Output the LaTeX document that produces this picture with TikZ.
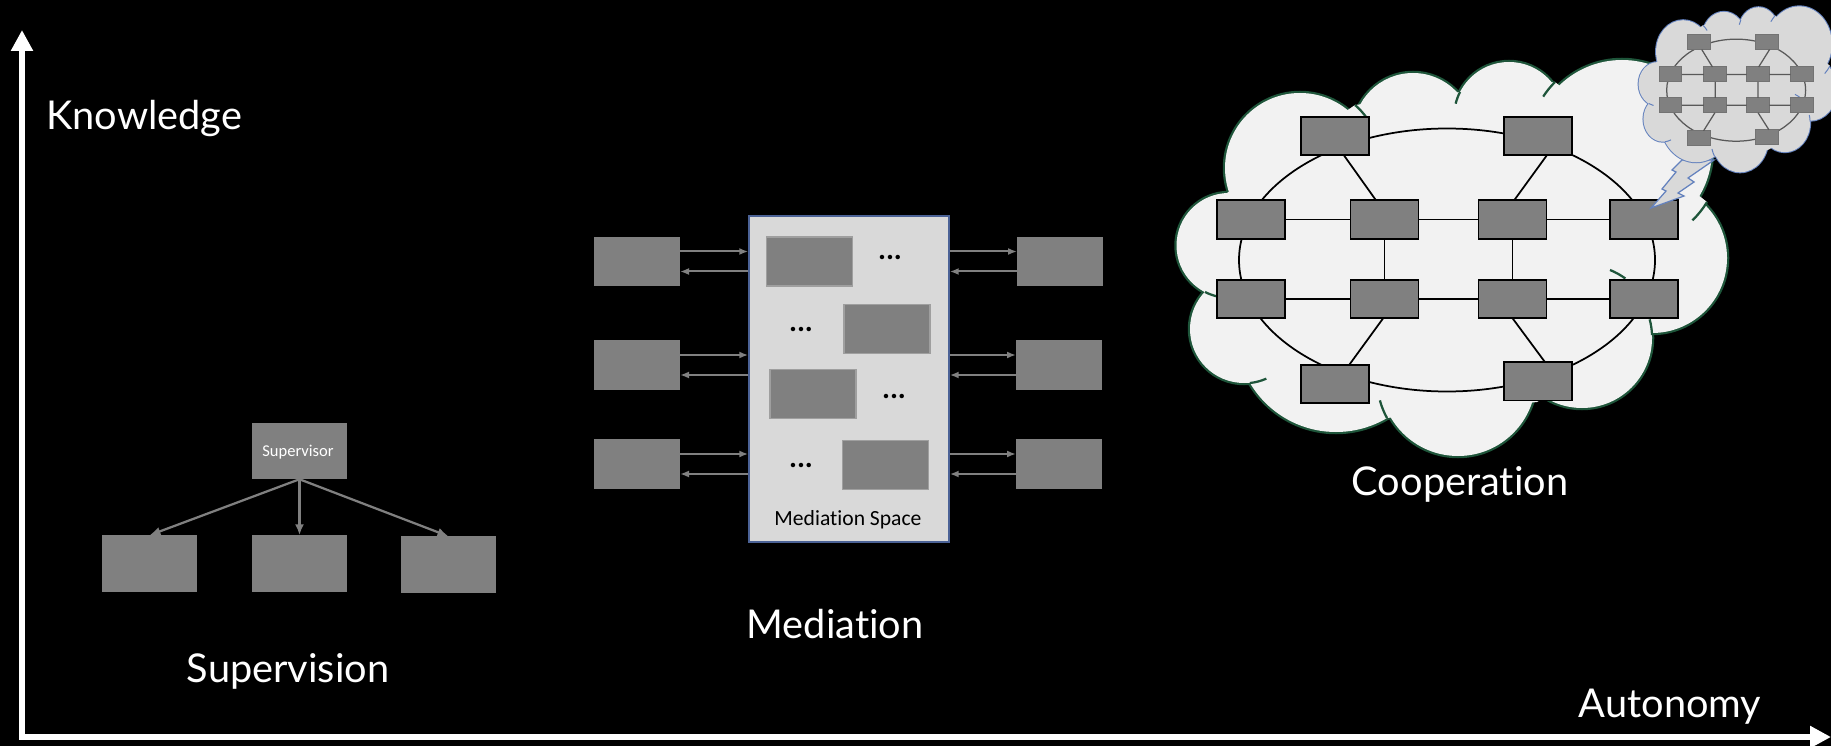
\documentclass[tikz,border=0pt]{standalone}
\usepackage{fontspec}
\setmainfont{Lato}[Ligatures={NoCommon,NoContextual}]
\newfontfamily\calibri{Carlito}[Ligatures={NoCommon,NoContextual}]
\usetikzlibrary{arrows.meta,calc}

\definecolor{boxgray}{RGB}{128,128,128}
\definecolor{spacegray}{RGB}{217,217,217}
\definecolor{spaceblue}{RGB}{75,98,150}
\definecolor{cloudwhite}{RGB}{242,242,242}
\definecolor{cloudgreen}{RGB}{30,85,58}
\definecolor{thinkblue}{RGB}{100,130,190}
\definecolor{thinkgray}{RGB}{217,217,217}

\tikzset{
  axis/.style={white, line width=0.12cm,
    {Triangle[length=0.42cm,width=0.42cm]}-{Triangle[length=0.42cm,width=0.42cm]}},
  axislabel/.style={white, font=\fontsize{22.6}{28}\selectfont, inner sep=0pt, anchor=base},
  agent/.style={fill=boxgray, inner sep=0pt, outer sep=0pt},
  supbox/.style={agent, minimum width=1.9cm, minimum height=1.13cm},
  medbox/.style={agent, minimum width=1.72cm, minimum height=0.99cm},
  innerbox/.style={medbox, draw=gray!75, line width=0.03cm},
  suparrow/.style={boxgray, line width=0.045cm, -{Latex[length=0.22cm,width=0.18cm]}},
  medarrow/.style={boxgray, line width=0.04cm, -{Latex[length=0.18cm,width=0.14cm]}},
  dotlabel/.style={font=\calibri\bfseries\fontsize{17}{17}\selectfont, inner sep=0pt},
  netnode/.style={agent, minimum width=1.36cm, minimum height=0.77cm},
}

% puffs of the cloud: centre x / centre y / radius
\def\puffs{1300/168/75, 1413/133/60, 1509/117/55, 1622/150/90, 1652/258/75,
  1582/338/70, 1458/378/78, 1336/332/100, 1244/329/54, 1229/245.5/52.5}

% #1 = prefix of the node names, #2 = size of the cloud round the ring
\newcommand{\netcloud}[2]{%
  \begin{scope}[shift={(1447,260)}, scale=#2, shift={(-1447,-260)}]
  \foreach \cx/\cy/\pr in \puffs \draw[puff line] (\cx,\cy) circle[radius=\pr];
  \fill[puff fill] (1227,193) -- (1355,105) -- (1460,92) -- (1555,82) -- (1707,202)
    -- (1652,335) -- (1537,402) -- (1387,418) -- (1250,383) -- (1205,292) -- cycle;
  \foreach \cx/\cy/\pr in \puffs \fill[puff fill] (\cx,\cy) circle[radius=\pr];
  \draw[puff tail] (1355,105) arc[start angle=-49, end angle=-36, radius=75];
  \draw[puff tail] (1460,92) arc[start angle=207, end angle=194, radius=55];
  \draw[puff tail] (1555,82) arc[start angle=225, end angle=213, radius=90];
  \draw[puff tail] (1707,202) arc[start angle=31, end angle=46, radius=90];
  \draw[puff tail] (1652,335) arc[start angle=-2, end angle=-15, radius=70];
  \draw[puff tail] (1610,270) arc[start angle=-68, end angle=-54, radius=72];
  \draw[puff tail] (1387,418) arc[start angle=151, end angle=165, radius=78];
  \draw[puff tail] (1250,383) arc[start angle=84, end angle=66, radius=54];
  \draw[puff tail] (1205,292) arc[start angle=117, end angle=102, radius=52.5];
  \end{scope}
  % ring and grid of agents
  \draw[net line] (1447,260) ellipse[x radius=208, y radius=131.5];
  \node[netnode] (#1a1) at (1335.3,136) {};
  \node[netnode] (#1a2) at (1538.3,136) {};
  \node[netnode] (#1b1) at (1250.7,219.5) {};
  \node[netnode] (#1b2) at (1384.5,219.5) {};
  \node[netnode] (#1b3) at (1512.5,219.5) {};
  \node[netnode] (#1b4) at (1644,219.5) {};
  \node[netnode] (#1r1) at (1250.7,299) {};
  \node[netnode] (#1r2) at (1384.5,299) {};
  \node[netnode] (#1r3) at (1512.5,299) {};
  \node[netnode] (#1r4) at (1644,299) {};
  \node[netnode] (#1c1) at (1335.3,384) {};
  \node[netnode] (#1c2) at (1538.3,381.3) {};
  \draw[net line] (#1a1.-66) -- (#1b2.114);
  \draw[net line] (#1a2.-66) -- (#1b3.85);
  \draw[net line] (#1b1) -- (#1b2) -- (#1b3) -- (#1b4);
  \draw[net line] (#1r1) -- (#1r2) -- (#1r3) -- (#1r4);
  \draw[net line] (#1b2) -- (#1r2);
  \draw[net line] (#1b3) -- (#1r3);
  \draw[net line] (#1r2.-94) -- (#1c1.54);
  \draw[net line] (#1r3.-90) -- (#1c2.71);
}

\begin{document}
\begin{tikzpicture}[x=0.02cm, y=-0.02cm]
\fill[black] (0,0) rectangle (1831,746);
\useasboundingbox (0,0) rectangle (1831,746);

% axes
\coordinate (ytop) at (22,30);
\coordinate (origin) at (22,737);
\coordinate (xend) at (1831,737);
\draw[axis] (ytop) -- (origin) -- (xend);
\node[axislabel, anchor=base west] (knowledge) at (46,130) {Knowledge};
\node[axislabel] (autonomy) at (1670,717) {Autonomy};

% supervision
\node[supbox] (sup) at (299.5,451) {};
\node[white, font=\calibri\fontsize{9.4}{11}\selectfont, inner sep=0pt, anchor=base]
  (suplabel) at (298,456) {Supervisor};
\node[supbox] (ch1) at (149.5,563.5) {};
\node[supbox] (ch2) at (299.5,563.5) {};
\node[supbox] (ch3) at (448.5,564.5) {};
\foreach \c in {ch1,ch2,ch3} \draw[suparrow] (sup.south) -- (\c.north);
\node[axislabel] (supervision) at (288,682) {Supervision};

% mediation
\node[fill=spacegray, draw=spaceblue, line width=0.03cm, minimum width=4cm,
  minimum height=6.52cm, inner sep=0pt] (med) at (849,379) {};
\node[font=\calibri\fontsize{12.3}{14}\selectfont, inner sep=0pt, anchor=base]
  (medlabel) at (848,525) {Mediation Space};
\node[innerbox] (i1) at (809.6,261.5) {};
\node[innerbox] (i2) at (886.8,329) {};
\node[innerbox] (i3) at (813,394) {};
\node[innerbox] (i4) at (885.6,465) {};
\node[dotlabel] (d1) at (890,258) {...};
\node[dotlabel] (d2) at (801,330) {...};
\node[dotlabel] (d3) at (894,397) {...};
\node[dotlabel] (d4) at (801,465) {...};
\node[medbox] (l1) at (637,261.5) {};
\node[medbox] (l2) at (637,365) {};
\node[medbox] (l3) at (637,464) {};
\node[medbox] (r1) at (1060,261.5) {};
\node[medbox] (r2) at (1059,365) {};
\node[medbox] (r3) at (1059,464) {};
\foreach \i in {1,2,3} {
  \draw[medarrow] ($(l\i.east)+(0,-10)$) -- ($(l\i.east -| med.west)+(0,-10)$);
  \draw[medarrow] ($(l\i.east -| med.west)+(0,10)$) -- ($(l\i.east)+(0,10)$);
  \draw[medarrow] ($(r\i.west -| med.east)+(0,-10)$) -- ($(r\i.west)+(0,-10)$);
  \draw[medarrow] ($(r\i.west)+(0,10)$) -- ($(r\i.west -| med.east)+(0,10)$);
}
\node[axislabel] (mediation) at (835,638) {Mediation};

% cooperation
\begin{scope}[puff line/.style={draw=cloudgreen, line width=0.09cm},
  puff fill/.style={fill=cloudwhite}, puff tail/.style={cloudgreen, line width=0.045cm},
  net line/.style={black, line width=0.035cm},
  netnode/.append style={draw=black, line width=0.035cm}]
\netcloud{big}{1}
\end{scope}
\draw[fill=thinkgray, draw=thinkblue, line width=0.025cm, line join=miter]
  (1651,208) -- (1666,191) -- (1662,189) -- (1676,172) -- (1672,170) -- (1682,160)
  -- (1714,160) -- (1688,178) -- (1694,182) -- (1678,193) -- (1684,196) -- cycle;
\begin{scope}[shift={(1252.85,-10.7)}, xscale=0.334, yscale=0.388, transform shape,
  puff line/.style={draw=thinkblue, line width=0.04cm},
  puff fill/.style={fill=thinkgray}, puff tail/.style={thinkblue, line width=0.02cm},
  net line/.style={black!65, line width=0.025cm},
  netnode/.append style={draw=black!55, line width=0.02cm}]
\netcloud{small}{1.08}
\end{scope}
\node[axislabel] (cooperation) at (1460,495) {Cooperation};
\end{tikzpicture}
\end{document}
